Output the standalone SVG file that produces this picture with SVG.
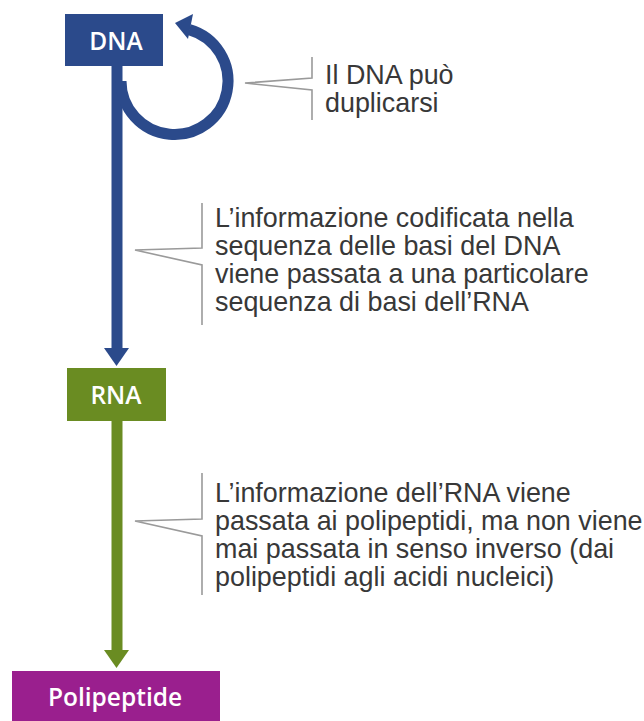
<svg xmlns="http://www.w3.org/2000/svg" width="644" height="721" viewBox="0 0 644 721">
<style>
.box-label{font-family:"Open Sans","Noto Sans",sans-serif;font-weight:600;font-size:24.5px;fill:#ffffff;text-anchor:middle}
.note{font-family:"Liberation Sans",Arial,sans-serif;font-size:26.9px;fill:#383838}
.bracket{fill:none;stroke:#9a9a9a;stroke-width:1.6;stroke-linejoin:miter}
.blue{stroke:#2b4a8b;fill:none;stroke-width:11}
.green{stroke:#6a8c22;fill:none;stroke-width:11}
</style>
<rect width="644" height="721" fill="#ffffff"/>
<g id="connectors">
  <line class="blue" x1="117" y1="60" x2="117" y2="350"/>
  <polygon points="104,348 129,348 116.5,366" fill="#2b4a8b"/>
  <path class="blue" stroke-width="13" d="M121 81 A53.5 53.5 0 1 0 189.2 29.6"/>
  <polygon points="175,23 193,14 188,39" fill="#2b4a8b"/>
  <line class="green" x1="117" y1="415" x2="117" y2="652"/>
  <polygon points="104,650 129,650 116.5,668" fill="#6a8c22"/>
</g>
<g id="node-dna">
  <rect x="65" y="14" width="98" height="52" fill="#2b4a8b"/>
  <text class="box-label" x="116" y="50">DNA</text>
</g>
<g id="node-rna">
  <rect x="67" y="368" width="99" height="53" fill="#6a8c22"/>
  <text class="box-label" x="116" y="404">RNA</text>
</g>
<g id="node-polipeptide">
  <rect x="12" y="671" width="208" height="60" fill="#9a1f8e"/>
  <text class="box-label" x="115" y="706">Polipeptide</text>
</g>
<g id="note-duplication">
  <path class="bracket" d="M312 57 V78 L245 83 L312 90 V120"/>
  <text class="note" x="325" y="84">Il DNA può</text>
  <text class="note" x="325" y="112">duplicarsi</text>
</g>
<g id="note-transcription">
  <path class="bracket" d="M202 203 V248 L135 250 L202 265 V325"/>
  <text class="note" x="215" y="227">L’informazione codificata nella</text>
  <text class="note" x="215" y="255">sequenza delle basi del DNA</text>
  <text class="note" x="215" y="283">viene passata a una particolare</text>
  <text class="note" x="215" y="311">sequenza di basi dell’RNA</text>
</g>
<g id="note-translation">
  <path class="bracket" d="M202 473 V519 L135 521 L202 536 V595"/>
  <text class="note" x="215" y="502">L’informazione dell’RNA viene</text>
  <text class="note" x="215" y="530">passata ai polipeptidi, ma non viene</text>
  <text class="note" x="215" y="558">mai passata in senso inverso (dai</text>
  <text class="note" x="215" y="586">polipeptidi agli acidi nucleici)</text>
</g>
</svg>
